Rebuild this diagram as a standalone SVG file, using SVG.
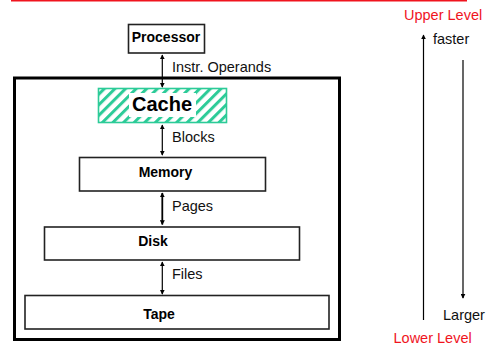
<svg xmlns="http://www.w3.org/2000/svg" width="491" height="347" viewBox="0 0 491 347">
<style>
.box{fill:#fff;stroke:#222;stroke-width:1.6}
.bl{font-family:"Liberation Sans",Arial,sans-serif;font-weight:bold;font-size:14px;fill:#000;text-anchor:middle}
.lb{font-family:"Liberation Sans",Arial,sans-serif;font-size:14.5px;fill:#111}
.red{font-family:"Liberation Sans",Arial,sans-serif;font-size:14.5px;fill:#f0141e}
.con{stroke:#000;stroke-width:1.2;fill:none}
</style>
<defs>
<marker id="ah" viewBox="0 0 8 8" refX="7" refY="4" markerWidth="5" markerHeight="5" markerUnits="userSpaceOnUse" orient="auto-start-reverse">
<path d="M0,0 L8,4 L0,8 z" fill="#000"/>
</marker>
<pattern id="hatch" width="7.5" height="7.5" patternUnits="userSpaceOnUse" patternTransform="rotate(45)">
<rect width="7.5" height="7.5" fill="#fff"/>
<rect width="3" height="7.5" fill="#2ccb98"/>
</pattern>
</defs>
<line x1="11" y1="0.5" x2="467" y2="0.5" stroke="#f0141e" stroke-width="2"/>
<text class="red" x="404" y="20">Upper Level</text>
<text class="red" x="393.5" y="343">Lower Level</text>
<rect x="14.5" y="78" width="325" height="261.5" fill="none" stroke="#000" stroke-width="3"/>
<g id="processor">
<rect class="box" x="128.5" y="24.5" width="76" height="28.5"/>
<text class="bl" x="166" y="42">Processor</text>
</g>
<g id="cache">
<rect x="98.5" y="88.5" width="128" height="34" fill="url(#hatch)" stroke="#2ccb98" stroke-width="1.6"/>
<rect x="129" y="93" width="67" height="24" fill="#fff"/>
<text class="bl" x="162" y="111" style="font-size:20px">Cache</text>
</g>
<g id="memory">
<rect class="box" x="79.5" y="157.5" width="186" height="33.5"/>
<text class="bl" x="165.5" y="177">Memory</text>
</g>
<g id="disk">
<rect class="box" x="44.5" y="227" width="255" height="33"/>
<text class="bl" x="153" y="246">Disk</text>
</g>
<g id="tape">
<rect class="box" x="25" y="295.5" width="304" height="33.5"/>
<text class="bl" x="159" y="319">Tape</text>
</g>
<g id="connectors">
<line class="con" x1="162.3" y1="55" x2="162.3" y2="87" marker-start="url(#ah)" marker-end="url(#ah)"/>
<line class="con" x1="162.3" y1="125" x2="162.3" y2="155" marker-start="url(#ah)" marker-end="url(#ah)"/>
<line class="con" x1="162.3" y1="193" x2="162.3" y2="224.5" marker-start="url(#ah)" marker-end="url(#ah)" style="stroke-width:1.8"/>
<line class="con" x1="162.3" y1="262" x2="162.3" y2="294" marker-start="url(#ah)" marker-end="url(#ah)"/>
<line class="con" x1="423.5" y1="320" x2="423.5" y2="35" marker-end="url(#ah)"/>
<line class="con" x1="463" y1="60" x2="463" y2="298" marker-end="url(#ah)"/>
</g>
<text class="lb" x="172" y="72">Instr. Operands</text>
<text class="lb" x="172" y="141.5">Blocks</text>
<text class="lb" x="172" y="210.5">Pages</text>
<text class="lb" x="172" y="279">Files</text>
<text class="lb" x="433" y="44">faster</text>
<text class="lb" x="443" y="320">Larger</text>
</svg>
